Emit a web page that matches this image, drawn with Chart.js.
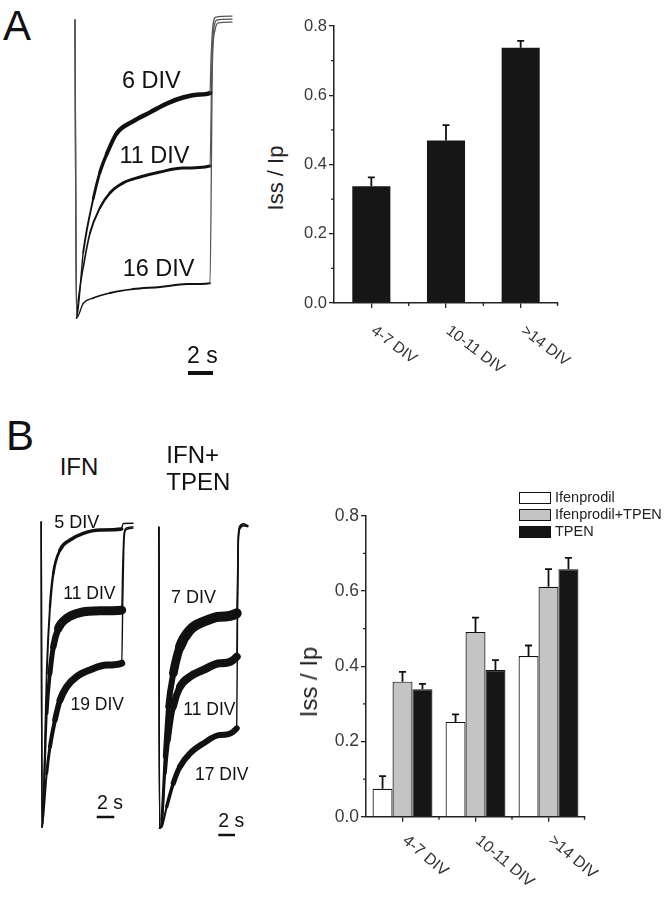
<!DOCTYPE html>
<html><head><meta charset="utf-8">
<script src="https://cdn.jsdelivr.net/npm/chart.js@4.4.1/dist/chart.umd.min.js"></script>
<style>
html,body{margin:0;padding:0;background:#fff;}
#page{position:relative;width:668px;height:899px;overflow:hidden;font-family:"Liberation Sans",Arial,Helvetica,sans-serif;color:#111;}
canvas{position:absolute;}
.t{position:absolute;line-height:1;white-space:nowrap;}
.box{position:absolute;box-sizing:border-box;border:1.5px solid #111;}
</style></head><body><div id="page"></div>
<script>
// ---------------- DATA ----------------
const panelLetters = ['A', 'B'];
const yTitle = 'Iss / Ip';
const yTicks = [0, 0.2, 0.4, 0.6, 0.8];
const yMinorTicks = [0.1, 0.3, 0.5, 0.7];

// Panel A bar chart
const categoriesA = ['4-7 DIV', '10-11 DIV', '>14 DIV'];
const issIpA = [0.337, 0.469, 0.737];
const semA = [0.026, 0.045, 0.020];

// Panel B bar chart
const categoriesB = ['4-7 DIV', '10-11 DIV', '>14 DIV'];
const seriesNamesB = ['Ifenprodil', 'Ifenprodil+TPEN', 'TPEN'];
const ifenprodilB = [0.074, 0.252, 0.427];
const ifenprodilSemB = [0.034, 0.020, 0.028];
const ifenTpenB = [0.359, 0.491, 0.611];
const ifenTpenSemB = [0.026, 0.038, 0.047];
const tpenB = [0.339, 0.390, 0.658];
const tpenSemB = [0.014, 0.026, 0.030];

// Current traces: [time (s) from onset, current normalised to peak]
const traceLabelsA = ['6 DIV', '11 DIV', '16 DIV'];
const traceA6Rise = [[-0.08,0],[0.04,-1.0],[0.58,-0.78],[1.38,-0.60],[1.92,-0.51],[2.46,-0.45],[3.26,-0.38],[4.56,-0.34],[5.92,-0.31],[7.28,-0.28],[8.56,-0.26],[9.92,-0.25],[10.72,-0.245]];
const traceA6Wash = [[10.80,-0.134],[10.96,-0.017],[11.20,0.010],[12.48,0.013]];
const traceA11Rise = [[-0.08,0],[0.04,-1.0],[0.18,-0.94],[0.58,-0.83],[1.12,-0.715],[1.92,-0.63],[2.72,-0.58],[3.76,-0.547],[5.12,-0.527],[6.72,-0.51],[8.56,-0.497],[10.72,-0.49]];
const traceA11Wash = [[10.88,-0.134],[11.04,-0.023],[11.28,0.0],[12.48,0.003]];
const traceA16Rise = [[-0.08,0],[0.04,-1.0],[0.58,-0.951],[1.38,-0.933],[2.72,-0.916],[4.56,-0.903],[6.72,-0.896],[8.88,-0.886],[10.72,-0.883]];
const traceA16Wash = [[10.92,-0.134],[11.12,-0.034],[11.36,-0.010],[12.48,-0.007]];

const conditionLabelsB = ['IFN', 'IFN+\nTPEN'];
const traceLabelsIfn = ['5 DIV', '11 DIV', '19 DIV'];
const traceB5Rise = [[-0.05,0],[0.03,-1.0],[0.11,-0.988],[0.375,-0.715],[0.57,-0.496],[0.94,-0.278],[1.32,-0.168],[2.08,-0.092],[3.22,-0.059],[4.73,-0.037],[6.63,-0.026],[9.09,-0.023]];
const traceB5Wash = [[9.17,-0.012],[9.27,-0.005],[10.38,-0.004]];
const traceB11Rise = [[-0.05,0],[0.03,-1.0],[0.18,-0.933],[0.57,-0.627],[0.94,-0.496],[1.32,-0.409],[1.89,-0.349],[2.84,-0.316],[4.35,-0.297],[6.63,-0.291],[9.09,-0.289]];
const traceB11Wash = [[9.20,-0.15],[9.35,-0.04],[9.60,-0.02],[10.38,-0.016]];
const traceB19Rise = [[-0.05,0],[0.03,-1.0],[0.18,-0.966],[0.57,-0.824],[0.94,-0.737],[1.51,-0.649],[2.08,-0.584],[2.84,-0.54],[3.98,-0.507],[5.49,-0.485],[7.39,-0.469],[9.09,-0.463]];
const traceB19Wash = [[9.22,-0.25],[9.38,-0.05],[9.60,-0.025],[10.38,-0.02]];

const traceLabelsTpen = ['7 DIV', '11 DIV', '17 DIV'];
const traceT7Rise = [[-0.05,0],[0.03,-1.0],[0.29,-0.972],[0.68,-0.762],[1.08,-0.596],[1.68,-0.485],[2.48,-0.397],[3.68,-0.341],[5.27,-0.314],[7.27,-0.297],[9.27,-0.286]];
const traceT7Wash = [[9.35,-0.20],[9.45,-0.03],[9.65,0.005],[10.1,0.012],[10.6,0.006]];
const traceT11Rise = [[-0.05,0],[0.03,-1.0],[0.29,-0.983],[0.68,-0.817],[1.08,-0.707],[1.68,-0.596],[2.48,-0.53],[3.68,-0.496],[5.27,-0.474],[7.27,-0.452],[9.27,-0.43]];
const traceT11Wash = [[9.36,-0.25],[9.46,-0.04],[9.66,0.0],[10.1,0.008],[10.6,0.004]];
const traceT17Rise = [[-0.05,0],[0.03,-1.0],[0.29,-0.995],[0.89,-0.928],[1.68,-0.85],[2.48,-0.795],[3.68,-0.751],[5.27,-0.718],[7.27,-0.69],[9.27,-0.668]];
const traceT17Wash = [[9.37,-0.30],[9.47,-0.05],[9.67,-0.005],[10.1,0.005],[10.6,0.002]];

const scaleBarLabel = '2 s';
const scaleBarSeconds = 2;

// ---------------- HELPERS ----------------
const page = document.getElementById('page');
const FONT = '"Liberation Sans", Arial, Helvetica, sans-serif';
function addText(txt, left, top, size, o = {}) {
  const d = document.createElement('div');
  d.className = 't';
  d.textContent = txt;
  d.style.left = left + 'px'; d.style.top = top + 'px'; d.style.fontSize = size + 'px';
  if (o.color) d.style.color = o.color;
  if (o.lh) d.style.lineHeight = o.lh + 'px';
  if (o.pre) d.style.whiteSpace = 'pre';
  if (o.transform) { d.style.transform = o.transform; d.style.transformOrigin = o.origin || '0 0'; }
  page.appendChild(d);
  return d;
}
function addCanvas(left, top, w, h) {
  const c = document.createElement('canvas');
  c.width = w; c.height = h;
  c.style.left = left + 'px'; c.style.top = top + 'px';
  c.style.width = w + 'px'; c.style.height = h + 'px';
  page.appendChild(c);
  return c;
}

// ---------------- TRACE PANELS ----------------
function tracePanel(cfg, traces) {
  const c = addCanvas(cfg.left, cfg.top, cfg.w, cfg.h);
  const xmin = (cfg.left - cfg.x0) / cfg.pxs, xmax = (cfg.left + cfg.w - cfg.x0) / cfg.pxs;
  const ymax = (cfg.yBase - cfg.top) / cfg.span, ymin = -(cfg.top + cfg.h - cfg.yBase) / cfg.span;
  const datasets = traces.map(tr => {
    const nR = tr.rise.length;
    const pts = tr.rise.concat(tr.wash).map(p => ({ x: p[0], y: p[1] }));
    return {
      data: pts, showLine: true, pointRadius: 0, borderColor: '#111', borderWidth: tr.w,
      cubicInterpolationMode: 'monotone', borderJoinStyle: 'round', borderCapStyle: 'round',
      segment: {
        borderWidth: ctx => {
          const i = ctx.p0DataIndex;
          if (i < 1 || i >= nR - 1) return cfg.thin;
          const t = ctx.p0.parsed.x;
          return Math.min(tr.w, cfg.thin + (tr.w - cfg.thin) * t / cfg.ramp);
        },
        borderColor: ctx => (ctx.p0DataIndex >= nR - 1 || ctx.p0DataIndex < 1) ? cfg.washColor : '#111'
      }
    };
  });
  const scaleBar = {
    id: 'scaleBar',
    afterDraw(chart) {
      const xs = chart.scales.x, ctx = chart.ctx;
      const len = xs.getPixelForValue(scaleBarSeconds) - xs.getPixelForValue(0);
      const x0 = cfg.barX - cfg.left, y = cfg.barY - cfg.top;
      ctx.save(); ctx.strokeStyle = '#111'; ctx.lineWidth = cfg.barW;
      ctx.beginPath(); ctx.moveTo(x0, y); ctx.lineTo(x0 + len, y); ctx.stroke(); ctx.restore();
    }
  };
  return new Chart(c, {
    type: 'scatter',
    data: { datasets },
    options: {
      responsive: false, animation: false, events: [],
      layout: { padding: 0 },
      plugins: { legend: { display: false }, tooltip: { enabled: false } },
      scales: {
        x: { type: 'linear', display: false, min: xmin, max: xmax },
        y: { type: 'linear', display: false, min: ymin, max: ymax }
      }
    },
    plugins: [scaleBar]
  });
}

tracePanel({ left: 60, top: 0, w: 185, h: 380, x0: 76, pxs: 12.5, yBase: 20, span: 298,
  thin: 1.3, ramp: 3, washColor: '#555', barX: 188, barY: 373, barW: 4 },
  [ { rise: traceA6Rise, wash: traceA6Wash, w: 4.5 },
    { rise: traceA11Rise, wash: traceA11Wash, w: 3 },
    { rise: traceA16Rise, wash: traceA16Wash, w: 2 } ]);

tracePanel({ left: 20, top: 500, w: 130, h: 340, x0: 41.7, pxs: 8.8, yBase: 522, span: 305,
  thin: 1.4, ramp: 2, washColor: '#111', barX: 96.7, barY: 817, barW: 2.5 },
  [ { rise: traceB5Rise, wash: traceB5Wash, w: 3.5 },
    { rise: traceB11Rise, wash: traceB11Wash, w: 9 },
    { rise: traceB19Rise, wash: traceB19Wash, w: 7 } ]);

tracePanel({ left: 140, top: 500, w: 125, h: 345, x0: 159.3, pxs: 8.35, yBase: 527.3, span: 301,
  thin: 1.4, ramp: 2, washColor: '#111', barX: 218.3, barY: 835, barW: 2.5 },
  [ { rise: traceT7Rise, wash: traceT7Wash, w: 10 },
    { rise: traceT11Rise, wash: traceT11Wash, w: 8 },
    { rise: traceT17Rise, wash: traceT17Wash, w: 6 } ]);

// ---------------- BAR CHARTS ----------------
const errorBars = {
  id: 'errorBars',
  afterDatasetsDraw(chart, args, opts) {
    const ctx = chart.ctx, ys = chart.scales.y;
    chart.data.datasets.forEach((ds, di) => {
      const meta = chart.getDatasetMeta(di);
      meta.data.forEach((bar, i) => {
        const v = ds.data[i], e = ds.errors[i];
        const yTop = ys.getPixelForValue(v), yE = ys.getPixelForValue(v + e);
        ctx.save(); ctx.strokeStyle = '#111'; ctx.lineWidth = opts.lw;
        ctx.beginPath();
        ctx.moveTo(bar.x, yTop); ctx.lineTo(bar.x, yE);
        ctx.moveTo(bar.x - opts.cap, yE); ctx.lineTo(bar.x + opts.cap, yE);
        ctx.stroke(); ctx.restore();
      });
    });
  }
};
const minorTicks = {
  id: 'minorTicks',
  afterDraw(chart, args, opts) {
    const ctx = chart.ctx, xs = chart.scales.x, ys = chart.scales.y, a = chart.chartArea;
    ctx.save(); ctx.strokeStyle = '#222'; ctx.lineWidth = 1.3; ctx.beginPath();
    yMinorTicks.forEach(v => { const y = ys.getPixelForValue(v); ctx.moveTo(a.left, y); ctx.lineTo(a.left - opts.len, y); });
    const n = chart.data.labels.length;
    for (let i = 0; i < n; i++) {
      const xb = i < n - 1 ? (xs.getPixelForValue(i) + xs.getPixelForValue(i + 1)) / 2 : a.right - 0.5;
      ctx.moveTo(xb, a.bottom); ctx.lineTo(xb, a.bottom + opts.len);
    }
    ctx.stroke(); ctx.restore();
  }
};
function barChart(cfg, labels, datasets) {
  const c = addCanvas(cfg.left, cfg.top, cfg.w, cfg.h);
  const chart = new Chart(c, {
    type: 'bar',
    data: { labels, datasets },
    options: {
      responsive: false, animation: false, events: [],
      layout: { padding: { top: cfg.padTop, right: cfg.padRight, left: 0, bottom: 0 } },
      plugins: { legend: { display: false }, tooltip: { enabled: false },
        errorBars: { lw: 1.8, cap: 3.5 }, minorTicks: { len: 3 } },
      scales: {
        x: {
          offset: true,
          grid: { display: true, drawOnChartArea: false, drawTicks: true, tickLength: 5, offset: false, color: '#222', lineWidth: 1.3 },
          border: { display: true, color: '#222', width: 1.5 },
          ticks: { display: false },
          afterFit: s => { s.height = cfg.xH; }
        },
        y: {
          min: 0, max: 0.8,
          afterBuildTicks: s => { s.ticks = yTicks.map(v => ({ value: v })); },
          grid: { display: true, drawOnChartArea: false, drawTicks: true, tickLength: 5, color: '#222', lineWidth: 1.3 },
          border: { display: true, color: '#222', width: 1.5 },
          ticks: { padding: 2, color: '#3a3a3a', font: { family: FONT, size: cfg.tickSize }, callback: v => Number(v).toFixed(1) },
          afterFit: s => { s.width = cfg.yW; }
        }
      }
    },
    plugins: [errorBars, minorTicks]
  });
  labels.forEach((lab, i) => {
    const x = chart.scales.x.getPixelForValue(i) + cfg.left;
    addText(lab, x + cfg.labDx, cfg.labTop, cfg.labSize, { color: '#333', transform: 'rotate(' + cfg.labRot + 'deg)' });
  });
  return chart;
}

barChart({ left: 290, top: 0, w: 300, h: 380, padTop: 26, padRight: 32, xH: 77, yW: 44, tickSize: 16.5,
  labDx: 7, labTop: 321.5, labSize: 15.5, labRot: 37 },
  categoriesA,
  [ { data: issIpA, errors: semA, backgroundColor: '#161616', borderColor: '#161616', borderWidth: 0,
      barPercentage: 0.51, categoryPercentage: 1 } ]);

barChart({ left: 300, top: 490, w: 310, h: 400, padTop: 25.7, padRight: 25, xH: 73.3, yW: 66, tickSize: 17.5,
  labDx: 7, labTop: 832, labSize: 16, labRot: 40 },
  categoriesB,
  [ { label: seriesNamesB[0], data: ifenprodilB, errors: ifenprodilSemB, backgroundColor: '#ffffff', borderColor: '#111', borderWidth: 1.2, barPercentage: 1, categoryPercentage: 0.82 },
    { label: seriesNamesB[1], data: ifenTpenB, errors: ifenTpenSemB, backgroundColor: '#c4c4c4', borderColor: '#111', borderWidth: 1.2, barPercentage: 1, categoryPercentage: 0.82 },
    { label: seriesNamesB[2], data: tpenB, errors: tpenSemB, backgroundColor: '#161616', borderColor: '#111', borderWidth: 1.2, barPercentage: 1, categoryPercentage: 0.82 } ]);

// ---------------- TEXT ----------------
addText(panelLetters[0], 3, 4.5, 42);
addText(panelLetters[1], 6, 414.5, 42);

// y titles (rotated)
addText(yTitle, 276.4, 177.5, 22, { color: '#222', transform: 'translate(-50%,-50%) rotate(-90deg)', origin: '50% 50%' });
addText(yTitle, 308.9, 681.7, 24, { color: '#222', transform: 'translate(-50%,-50%) rotate(-90deg)', origin: '50% 50%' });

// Panel A trace labels
const posA = [[122, 68.6], [119.4, 143.6], [122.7, 256.9]];
traceLabelsA.forEach((s, i) => addText(s, posA[i][0], posA[i][1], 23.5));
addText(scaleBarLabel, 187, 344, 23);

// Panel B trace labels
addText(conditionLabelsB[0], 59.7, 455.2, 24);
addText(conditionLabelsB[1], 166.3, 442.3, 24, { lh: 26.6, pre: true });
const posIfn = [[54.3, 512.6, 18], [63.3, 584.7, 17.5], [70.5, 696, 17.5]];
traceLabelsIfn.forEach((s, i) => addText(s, posIfn[i][0], posIfn[i][1], posIfn[i][2]));
const posTpen = [[171, 587.6, 18], [183.3, 701, 17.5], [195, 766, 17.5]];
traceLabelsTpen.forEach((s, i) => addText(s, posTpen[i][0], posTpen[i][1], posTpen[i][2]));
addText(scaleBarLabel, 97, 792.5, 19.5);
addText(scaleBarLabel, 218.3, 810.8, 19.5);

// Legend (panel B)
const legendFills = ['#ffffff', '#c4c4c4', '#161616'];
seriesNamesB.forEach((name, i) => {
  const top = 491.7 + i * 17.3;
  const b = document.createElement('div');
  b.className = 'box';
  b.style.left = '519px'; b.style.top = top + 'px'; b.style.width = '32px'; b.style.height = '12px';
  b.style.background = legendFills[i];
  page.appendChild(b);
  addText(name, 555, top - 1.9, 14.5, { color: '#222' });
});
</script>
</body></html>
